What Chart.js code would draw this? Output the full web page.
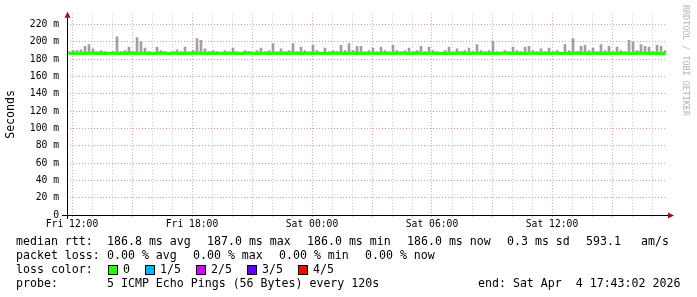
<!DOCTYPE html>
<html>
<head>
<meta charset="utf-8">
<script src="https://cdn.jsdelivr.net/npm/chart.js@4.4.1/dist/chart.umd.min.js"></script>
<style>
    html, body { margin: 0; padding: 0; background: #fff; }
    #wrap { position: relative; width: 697px; height: 297px; overflow: hidden; }
    #chart { position: absolute; left: 0; top: 0; }
    .txt { position: absolute; font-family: 'DejaVu Sans Mono', monospace; font-size: 11.6px; line-height: 14px; color: #000; white-space: pre; }
    .sq { position: absolute; width: 8px; height: 8px; border: 1px solid #000; }
</style>
</head>
<body>
<div id="wrap">
    <canvas id="chart" width="697" height="297"></canvas>
    <div id="legendText"></div>
</div>
<script>
(function () {
    'use strict';

    // time axis in hours since Fri 00:00, one sample every 12 minutes
    var startHour = 11.75;
    var binHours = 0.2;

    var xTickHours = [12, 13, 14, 15, 16, 17, 18, 19, 20, 21, 22, 23, 24, 25, 26, 27, 28, 29, 30, 31, 32, 33, 34, 35, 36, 37, 38, 39, 40, 41];
    var xTickLabels = { 12: 'Fri 12:00', 18: 'Fri 18:00', 24: 'Sat 00:00', 30: 'Sat 06:00', 36: 'Sat 12:00' };
    var yTickValues = [0, 10, 20, 30, 40, 50, 60, 70, 80, 90, 100, 110, 120, 130, 140, 150, 160, 170, 180, 190, 200, 210, 220, 230];

    var lossLabels = ['0', '1/5', '2/5', '3/5', '4/5'];
    var lossColors = ['#22ff00', '#00b4ff', '#d400ff', '#5a00ff', '#ff0000'];

    // median rtt in ms
    var medianRtt = [
        186.8, 186.6, 187.0, 186.9, 186.5, 186.8, 187.1, 186.7, 186.9, 186.6,
        187.0, 186.8, 186.5, 186.9, 186.7, 187.2, 186.8, 186.6, 186.9, 187.0,
        186.7, 186.5, 186.8, 187.1, 186.9, 186.6, 186.8, 187.0, 186.7, 186.9,
        186.5, 186.8, 187.1, 186.9, 186.6, 186.8, 186.7, 187.0, 186.9, 186.5,
        186.8, 187.0, 186.7, 186.6, 186.9, 187.1, 186.8, 186.5, 186.8, 186.9,
        186.7, 187.0, 186.8, 186.6, 186.9, 186.7, 187.1, 186.8, 186.5, 186.9,
        186.8, 186.6, 187.0, 186.9, 186.7, 186.5, 186.8, 187.0, 186.9, 186.6,
        186.8, 187.1, 186.7, 186.9, 186.6, 186.8, 187.0, 186.5, 186.8, 186.9,
        186.7, 186.6, 187.0, 186.8, 186.9, 186.5, 186.7, 187.1, 186.8, 186.6,
        186.9, 186.8, 186.5, 187.0, 186.7, 186.9, 186.6, 186.8, 187.1, 186.7,
        186.5, 186.8, 186.9, 187.0, 186.6, 186.8, 186.7, 186.5, 186.9, 187.1,
        186.8, 186.6, 186.9, 186.7, 186.5, 186.8, 187.0, 186.9, 186.6, 186.8,
        186.7, 187.0, 186.8, 186.5, 186.9, 186.6, 186.8, 187.1, 186.7, 186.9,
        186.6, 186.8, 187.0, 186.5, 186.9, 186.7, 186.8, 186.6, 187.0, 186.9,
        186.7, 186.5, 186.8, 187.1, 186.9, 186.6, 186.8, 186.7, 186.5, 186.0
    ];

    // smoke: lowest and highest of the 5 pings per sample, ms
    var smokeLow = [
        186.1, 185.9, 186.2, 186.0, 185.8, 186.1, 186.3, 185.9, 186.0, 186.1,
        186.2, 186.0, 185.8, 186.1, 185.9, 186.3, 186.0, 185.9, 186.1, 186.2,
        185.9, 185.8, 186.0, 186.3, 186.1, 185.9, 186.0, 186.2, 185.9, 186.1,
        185.8, 186.0, 186.3, 186.1, 185.9, 186.0, 185.9, 186.2, 186.1, 185.8,
        186.0, 186.2, 185.9, 185.9, 186.1, 186.3, 186.0, 185.8, 186.0, 186.1,
        185.9, 186.2, 186.0, 185.9, 186.1, 185.9, 186.3, 186.0, 185.8, 186.1,
        186.0, 185.9, 186.2, 186.1, 185.9, 185.8, 186.0, 186.2, 186.1, 185.9,
        186.0, 186.3, 185.9, 186.1, 185.9, 186.0, 186.2, 185.8, 186.0, 186.1,
        185.9, 185.9, 186.2, 186.0, 186.1, 185.8, 185.9, 186.3, 186.0, 185.9,
        186.1, 186.0, 185.8, 186.2, 185.9, 186.1, 185.9, 186.0, 186.3, 185.9,
        185.8, 186.0, 186.1, 186.2, 185.9, 186.0, 185.9, 185.8, 186.1, 186.3,
        186.0, 185.9, 186.1, 185.9, 185.8, 186.0, 186.2, 186.1, 185.9, 186.0,
        185.9, 186.2, 186.0, 185.8, 186.1, 185.9, 186.0, 186.3, 185.9, 186.1,
        185.9, 186.0, 186.2, 185.8, 186.1, 185.9, 186.0, 185.9, 186.2, 186.1,
        185.9, 185.8, 186.0, 186.3, 186.1, 185.9, 186.0, 185.9, 185.8, 185.6
    ];
    var smokeHigh = [
        189, 190, 190, 191, 195, 197, 192, 189, 190, 189,
        188, 189, 206, 189, 190, 194, 189, 205, 200, 193,
        189, 188, 194, 190, 189, 188, 189, 191, 189, 194,
        189, 190, 204, 202, 192, 189, 190, 189, 188, 190,
        189, 193, 189, 188, 190, 189, 188, 190, 193, 189,
        190, 198, 189, 192, 189, 190, 198, 189, 194, 190,
        189, 196, 190, 188, 193, 189, 190, 189, 196, 190,
        198, 190, 195, 195, 189, 190, 193, 189, 194, 190,
        189, 196, 190, 189, 190, 193, 189, 190, 195, 189,
        194, 190, 189, 188, 190, 194, 189, 192, 189, 190,
        193, 189, 197, 190, 189, 190, 201, 189, 188, 190,
        189, 194, 190, 189, 194, 195, 190, 189, 192, 189,
        193, 189, 190, 188, 197, 190, 204, 189, 195, 196,
        190, 193, 189, 197, 190, 195, 189, 194, 190, 189,
        202, 200, 190, 197, 195, 194, 189, 196, 195, 190
    ];

    // legend text pieces: [text, left, top]
    var legendPieces = [
        ['median rtt:', 16, 234], ['186.8 ms avg', 107, 234], ['187.0 ms max', 207, 234],
        ['186.0 ms min', 307, 234], ['186.0 ms now', 407, 234], ['0.3 ms sd', 507, 234],
        ['593.1', 586, 234], ['am/s', 641, 234],
        ['packet loss:', 16, 248], ['0.00 % avg', 107, 248], ['0.00 % max', 193, 248],
        ['0.00 % min', 279, 248], ['0.00 % now', 365, 248],
        ['loss color:', 16, 262],
        ['probe:', 16, 276], ['5 ICMP Echo Pings (56 Bytes) every 120s', 107, 276],
        ['end: Sat Apr  4 17:43:02 2026', 478, 276]
    ];
    var lossBoxLeft = [108, 145, 196, 247, 298];

    function binTime(i) {
        return startHour + (i + 0.5) * binHours;
    }

    var smokePoints = smokeHigh.map(function (hi, i) {
        return { x: binTime(i), y: [smokeLow[i], hi] };
    });
    var medianPoints = medianRtt.map(function (v, i) {
        return { x: binTime(i), y: v };
    });

    function addText(parent, text, left, top) {
        var t = document.createElement('div');
        t.className = 'txt';
        t.style.left = left + 'px';
        t.style.top = top + 'px';
        t.textContent = text;
        parent.appendChild(t);
    }

    var legend = document.getElementById('legendText');
    legendPieces.forEach(function (p) {
        addText(legend, p[0], p[1], p[2]);
    });
    lossLabels.forEach(function (label, i) {
        var sq = document.createElement('div');
        sq.className = 'sq';
        sq.style.left = lossBoxLeft[i] + 'px';
        sq.style.top = '265px';
        sq.style.background = lossColors[i];
        legend.appendChild(sq);
        addText(legend, label, lossBoxLeft[i] + 15, 262);
    });

    var axisDecor = {
        id: 'axisDecor',
        afterDraw: function (chart) {
            var ctx = chart.ctx;
            var a = chart.chartArea;
            ctx.save();
            ctx.strokeStyle = '#000';
            ctx.lineWidth = 1;
            ctx.beginPath();
            ctx.moveTo(a.left - 5, a.bottom + 0.5);
            ctx.lineTo(a.right + 1, a.bottom + 0.5);
            ctx.moveTo(a.left + 0.5, a.bottom + 4);
            ctx.lineTo(a.left + 0.5, a.top + 4);
            ctx.stroke();
            ctx.fillStyle = '#a01010';
            ctx.beginPath();
            ctx.moveTo(a.right + 7, a.bottom + 0.5);
            ctx.lineTo(a.right + 1, a.bottom - 2.5);
            ctx.lineTo(a.right + 1, a.bottom + 3.5);
            ctx.closePath();
            ctx.fill();
            ctx.beginPath();
            ctx.moveTo(a.left + 0.5, a.top - 2);
            ctx.lineTo(a.left - 2.5, a.top + 4);
            ctx.lineTo(a.left + 3.5, a.top + 4);
            ctx.closePath();
            ctx.fill();

            ctx.translate(685, 5);
            ctx.rotate(Math.PI / 2);
            ctx.fillStyle = '#b4b4b4';
            ctx.font = '8.4px "DejaVu Sans Mono"';
            ctx.textBaseline = 'middle';
            ctx.fillText('RRDTOOL / TOBI OETIKER', 0, 0);
            ctx.restore();
        }
    };

    function gridColor(step) {
        return function (c) {
            return c.tick && c.tick.value % step === 0 ? '#e39c9c' : '#c8c8c8';
        };
    }

    new Chart(document.getElementById('chart'), {
        data: {
            datasets: [{
                type: 'line',
                data: medianPoints,
                borderColor: lossColors[0],
                borderWidth: 3,
                pointRadius: 0,
                stepped: 'middle',
                order: 0
            }, {
                type: 'bar',
                data: smokePoints,
                backgroundColor: 'rgba(150,150,150,0.9)',
                barThickness: 2,
                order: 1
            }]
        },
        options: {
            responsive: false,
            animation: false,
            devicePixelRatio: 1,
            layout: { padding: { left: 0, top: 10, right: 30, bottom: 65 } },
            plugins: { legend: { display: false }, tooltip: { enabled: false } },
            scales: {
                x: {
                    type: 'linear',
                    offset: false,
                    min: startHour,
                    max: startHour + 30,
                    border: { display: false, dash: [1, 2] },
                    afterFit: function (scale) { scale.height = 17; },
                    afterBuildTicks: function (scale) {
                        scale.ticks = xTickHours.map(function (h) { return { value: h }; });
                    },
                    grid: {
                        offset: false,
                        color: gridColor(3),
                        tickLength: 2
                    },
                    ticks: {
                        autoSkip: false,
                        maxRotation: 0,
                        padding: 2,
                        color: '#000',
                        font: { family: 'DejaVu Sans Mono', size: 9.7 },
                        callback: function (v) { return xTickLabels[v] || ''; }
                    }
                },
                y: {
                    min: 0,
                    max: 232.5,
                    border: { display: false, dash: [1, 2] },
                    afterFit: function (scale) { scale.width = 67; },
                    afterBuildTicks: function (scale) {
                        scale.ticks = yTickValues.map(function (v) { return { value: v }; });
                    },
                    grid: {
                        color: gridColor(20),
                        drawTicks: false
                    },
                    ticks: {
                        padding: 8,
                        color: '#000',
                        font: { family: 'DejaVu Sans Mono', size: 9.7 },
                        callback: function (v) {
                            if (v % 20 !== 0) return '';
                            return v === 0 ? '0' : v + ' m';
                        }
                    },
                    title: {
                        display: true,
                        text: 'Seconds',
                        color: '#000',
                        padding: { top: 4, bottom: 2 },
                        font: { family: 'DejaVu Sans Mono', size: 11.6 }
                    }
                }
            }
        },
        plugins: [axisDecor]
    });
})();
</script>
</body>
</html>
